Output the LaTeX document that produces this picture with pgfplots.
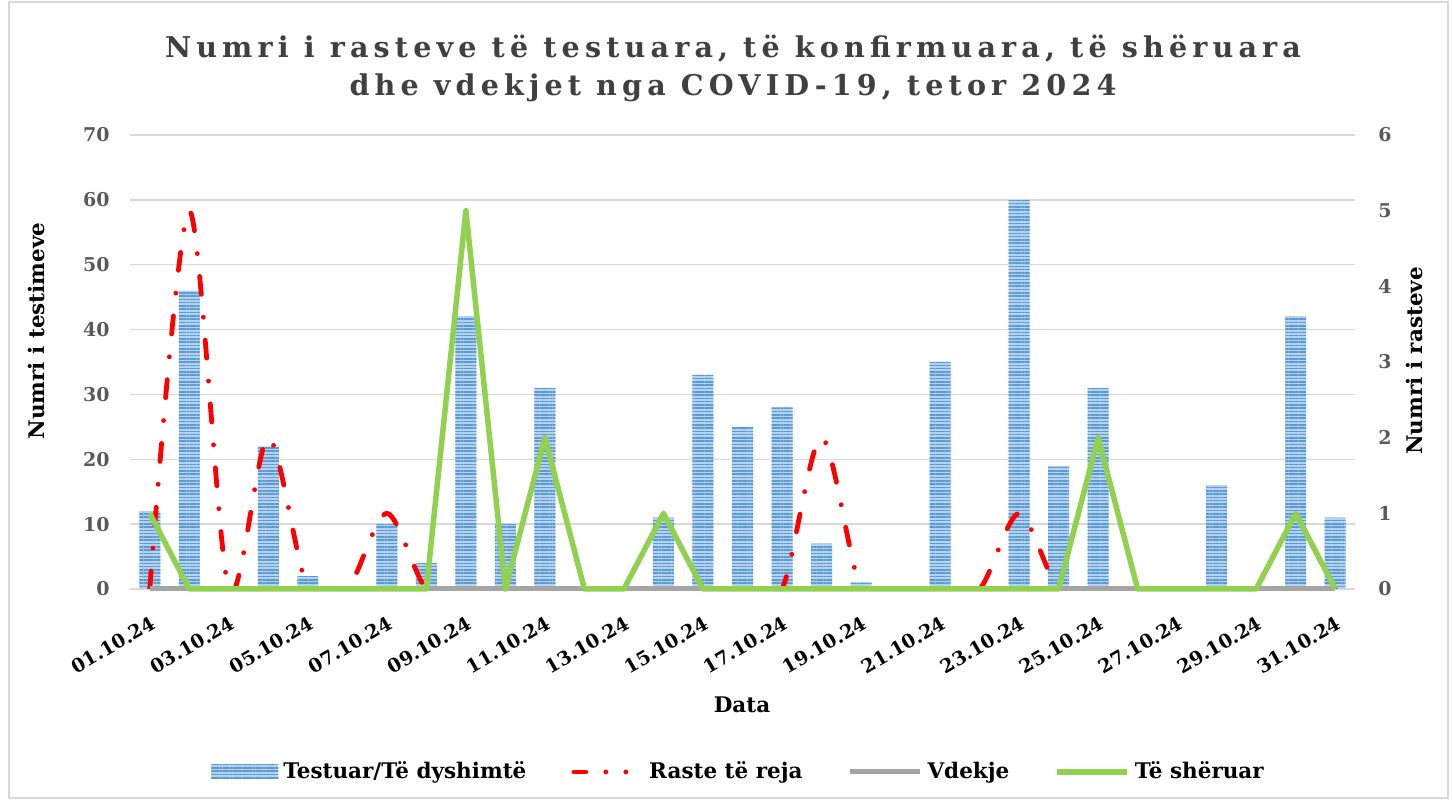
\documentclass[border=0pt]{standalone}
\usepackage{fontspec}
\setmainfont{DejaVu Serif}
\newfontfamily\titlefont[LetterSpace=18]{DejaVu Serif}
\usepackage{pgfplots}
\pgfplotsset{compat=1.18}
\usetikzlibrary{patterns.meta}
\definecolor{barfill}{HTML}{B4D2EE}
\definecolor{barline}{HTML}{5B9BD5}
\definecolor{gridc}{HTML}{D9D9D9}
\definecolor{tickc}{HTML}{595959}
\definecolor{titlec}{HTML}{404040}
\definecolor{vdek}{HTML}{A5A5A5}
\definecolor{sher}{HTML}{92D050}
\definecolor{raste}{HTML}{FF0000}
\tikzset{
  barstyle/.style={fill=barfill, draw=none,
    postaction={pattern={Lines[angle=0,distance=1.65pt,line width=0.8pt]}, pattern color=barline}},
  rastestyle/.style={raste, line width=2.4pt, line cap=round,
    dash pattern=on 9pt off 11.5pt on 0pt off 11.5pt},
}
\pgfplotsset{
  geom/.style={at={(0pt,0pt)}, anchor=south west, scale only axis,
    width=612.5pt, height=227pt, xmin=0.5, xmax=31.5},
  linelegend/.style={legend image code/.code={\draw[##1] (0pt,0pt) -- (35pt,0pt);}},
  barlegend/.style={legend image code/.code={\path[##1] (0pt,-3.5pt) rectangle (33.5pt,3.5pt);}},
  rastelegend/.style={legend image code/.code={\draw[##1, dash pattern=on 6pt off 10pt on 0pt off 10pt on 0pt off 20pt] (1pt,0pt) -- (35pt,0pt);}},
}
\begin{document}
\begin{tikzpicture}
\useasboundingbox (-65pt,-106pt) rectangle (661pt,294.5pt);
\draw[gridc, line width=0.75pt] (-60.5pt,-104.5pt) rectangle (659pt,293.5pt);

% bars, left axis
\begin{axis}[geom,
  ymin=0, ymax=70,
  axis line style={draw=none},
  ytick={0,10,...,70},
  ymajorgrids, grid style={gridc, line width=0.75pt},
  major tick length=0pt,
  xtick={1,3,...,31},
  xticklabels={01.10.24,03.10.24,05.10.24,07.10.24,09.10.24,11.10.24,13.10.24,15.10.24,17.10.24,19.10.24,21.10.24,23.10.24,25.10.24,27.10.24,29.10.24,31.10.24},
  xticklabel style={font=\bfseries\fontsize{9.5}{11}\selectfont, inner sep=0pt, yshift=-13pt, rotate=30, anchor=north east},
  yticklabel style={font=\bfseries\fontsize{9.5}{11}\selectfont, color=tickc, inner sep=0pt, anchor=east, xshift=-10pt},
  /pgf/number format/assume math mode=true,
]
\addplot[ybar, bar width=10.5pt, barstyle] coordinates {
(1,12) (2,46) (3,0) (4,22) (5,2) (6,0) (7,10) (8,4) (9,42) (10,10)
(11,31) (12,0) (13,0) (14,11) (15,33) (16,25) (17,28) (18,7) (19,1) (20,0)
(21,35) (22,0) (23,60) (24,19) (25,31) (26,0) (27,0) (28,16) (29,0) (30,42) (31,11)};
\end{axis}

% red smoothed line, clipped to plot area
\begin{axis}[geom, ymin=0, ymax=6, hide axis, clip=true]
\addplot[rastestyle, smooth] coordinates {
(1,0) (2,5) (3,0) (4,2) (5,0) (6,0) (7,1) (8,0) (9,0) (10,0)
(11,0) (12,0) (13,0) (14,0) (15,0) (16,0) (17,0) (18,2) (19,0) (20,0)
(21,0) (22,0) (23,1) (24,0) (25,0) (26,0) (27,0) (28,0) (29,0) (30,0) (31,0)};
\end{axis}

% right axis, deaths and recovered, legend
\begin{axis}[geom, ymin=0, ymax=6, clip=false,
  axis x line=none, axis y line*=right,
  y axis line style={draw=none},
  ytick={0,1,...,6}, major tick length=0pt,
  yticklabel style={font=\bfseries\fontsize{9.5}{11}\selectfont, color=tickc, inner sep=0pt, anchor=west, xshift=11.5pt},
  /pgf/number format/assume math mode=true,
  legend columns=4,
  legend style={at={(0.498,-0.403)}, anchor=center, draw=none, fill=none,
    font=\bfseries\fontsize{10.75}{13}\selectfont,
    /tikz/every even column/.append style={column sep=20pt},
    nodes={inner sep=2.5pt}},
]
\addlegendimage{barstyle, barlegend}
\addlegendentry{Testuar/Të dyshimtë}
\addlegendimage{raste, line width=2.4pt, line cap=round, rastelegend}
\addlegendentry{Raste të reja}
\addplot[vdek, line width=2.5pt, linelegend] coordinates {
(1,0) (2,0) (3,0) (4,0) (5,0) (6,0) (7,0) (8,0) (9,0) (10,0)
(11,0) (12,0) (13,0) (14,0) (15,0) (16,0) (17,0) (18,0) (19,0) (20,0)
(21,0) (22,0) (23,0) (24,0) (25,0) (26,0) (27,0) (28,0) (29,0) (30,0) (31,0)};
\addlegendentry{Vdekje}
\addplot[sher, line width=2.75pt, line join=round, linelegend] coordinates {
(1,1) (2,0) (3,0) (4,0) (5,0) (6,0) (7,0) (8,0) (9,5) (10,0)
(11,2) (12,0) (13,0) (14,1) (15,0) (16,0) (17,0) (18,0) (19,0) (20,0)
(21,0) (22,0) (23,0) (24,0) (25,2) (26,0) (27,0) (28,0) (29,0) (30,1) (31,0)};
\addlegendentry{Të shëruar}
\end{axis}

\node[anchor=base, text=titlec, font=\titlefont\bfseries\fontsize{14.3}{16}\selectfont] at (301.5pt,265.5pt) {Numri i rasteve të testuara, të konfirmuara, të shëruara};
\node[anchor=base, text=titlec, font=\titlefont\bfseries\fontsize{14.3}{16}\selectfont] at (301.5pt,246.5pt) {dhe vdekjet nga COVID-19, tetor 2024};
\node[rotate=90, font=\bfseries\fontsize{10.75}{13}\selectfont] at (-47pt,129pt) {Numri i testimeve};
\node[rotate=90, font=\bfseries\fontsize{10.75}{13}\selectfont] at (642pt,114pt) {Numri i rasteve};
\node[font=\bfseries\fontsize{10.75}{13}\selectfont] at (306pt,-58pt) {Data};
\end{tikzpicture}
\end{document}
